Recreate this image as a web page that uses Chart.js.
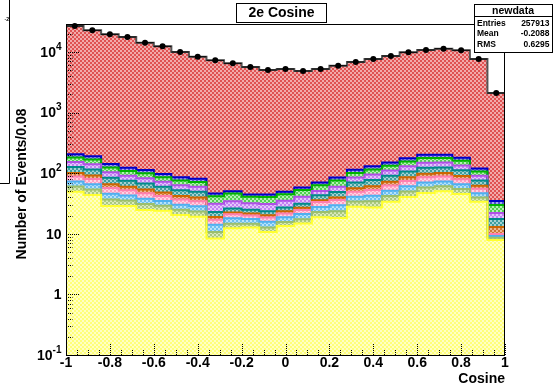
<!DOCTYPE html>
<html>
<head>
<meta charset="utf-8">
<script src="https://cdn.jsdelivr.net/npm/chart.js@4.4.1/dist/chart.umd.min.js"></script>
<style>
  html, body { margin: 0; padding: 0; background: #fff; }
  canvas { display: block; }
</style>
</head>
<body>
<canvas id="cosChart" width="553" height="387"></canvas>
<script>
// cos(theta) between the two electrons, 25 bins of width 0.08 on [-1, 1]
const binCenters = [-0.96, -0.88, -0.80, -0.72, -0.64, -0.56, -0.48, -0.40, -0.32, -0.24, -0.16, -0.08,
                    0.00, 0.08, 0.16, 0.24, 0.32, 0.40, 0.48, 0.56, 0.64, 0.72, 0.80, 0.88, 0.96];
const binWidth = 0.08;

// observed events per bin
const dataCounts = [26850, 22800, 19600, 17700, 14230, 12420, 10000, 8360, 7290, 6510, 5650, 5050,
                    5240, 4860, 5240, 5940, 6840, 7660, 8590, 9890, 10790, 11330, 10670, 7660, 2105];

// MC stack components, bottom to top
const stackYellow = [49.5, 43.7, 28.8, 28.8, 24.7, 24.0, 20.4, 19.1, 8.4, 12.3, 12.7, 10.7,
                     13.4, 14.8, 18.7, 18.2, 28.0, 27.2, 33.9, 40.5, 47.1, 50.5, 45.4, 33.9, 7.9];
const stackOlive  = [10.8, 10.2, 7.9, 6.6, 6.2, 5.1, 4.6, 4.3, 2.3, 2.4, 1.9, 2.0,
                     2.2, 2.6, 4.1, 5.4, 6.0, 7.2, 8.1, 9.5, 10.9, 10.6, 9.5, 6.0, 0.7];
const stackSky    = [12.7, 11.7, 9.0, 7.5, 7.0, 5.8, 5.2, 5.0, 3.4, 3.4, 2.9, 3.1,
                     3.2, 3.9, 4.8, 6.0, 6.9, 8.2, 9.3, 10.9, 12.4, 12.1, 10.8, 6.9, 0.6];
const stackPink   = [15.3, 14.6, 11.3, 9.4, 8.8, 7.3, 6.5, 6.2, 3.0, 3.0, 2.6, 2.7,
                     2.9, 3.4, 5.9, 6.7, 8.6, 10.3, 11.6, 13.6, 15.5, 15.1, 13.5, 8.6, 0.7];
const stackOrange = [12.5, 11.7, 9.0, 7.5, 7.0, 5.8, 5.2, 5.0, 1.9, 1.4, 1.6, 1.7,
                     1.8, 2.2, 2.2, 3.4, 6.9, 8.2, 9.3, 10.9, 12.4, 12.1, 10.8, 6.9, 3.0];
const stackTeal   = [25.8, 23.4, 18.1, 15.0, 14.1, 11.7, 10.4, 9.9, 3.8, 3.6, 3.2, 3.4,
                     3.6, 4.3, 7.6, 9.4, 13.8, 16.5, 18.6, 21.8, 24.8, 24.2, 21.6, 13.8, 4.6];
const stackViolet = [26.4, 24.8, 19.2, 16.0, 15.0, 12.4, 11.1, 10.5, 8.4, 8.5, 7.0, 7.5,
                     7.9, 9.5, 7.7, 10.7, 14.6, 17.5, 19.7, 23.1, 26.4, 25.7, 23.0, 14.6, 4.5];
const stackGreen  = [28.6, 27.7, 21.5, 17.9, 16.7, 13.9, 12.4, 11.8, 10.6, 11.5, 9.0, 9.5,
                     10.1, 12.0, 12.5, 16.1, 16.3, 19.6, 22.0, 25.8, 29.5, 28.7, 25.7, 16.3, 7.9];
const stackBlue   = [23.4, 21.9, 17.0, 14.1, 13.2, 11.0, 9.8, 9.3, 4.6, 4.1, 3.8, 4.1,
                     4.3, 5.2, 6.9, 9.4, 12.9, 15.5, 17.4, 20.4, 23.3, 22.7, 20.3, 12.9, 4.9];
const stackRed    = [26650, 22610, 19460, 17580, 14120, 12320, 9915, 8280, 7245, 6460, 5605, 5005,
                     5190, 4800, 5170, 5855, 6725, 7530, 8440, 9710, 10590, 11130, 10490, 7540, 2070];

// axis ticks and labels
const xTickValues = [-1, -0.8, -0.6, -0.4, -0.2, 0, 0.2, 0.4, 0.6, 0.8, 1];
const xTickLabels = ['-1', '-0.8', '-0.6', '-0.4', '-0.2', '0', '0.2', '0.4', '0.6', '0.8', '1'];
const yDecades = [0.1, 1, 10, 100, 1000, 10000];
const yTickLabels = [['10', '-1'], ['1', ''], ['10', ''], ['10', '2'], ['10', '3'], ['10', '4']];
const statsRows = [['Entries', '257913'], ['Mean', '-0.2088'], ['RMS', '0.6295']];

const FONT = '"Liberation Sans", Arial, Helvetica, sans-serif';

// ROOT-like dotted fill: 2px checker of the fill colour and a paler tint
function checker(dark, light) {
  const c = document.createElement('canvas');
  c.width = 4; c.height = 4;
  const g = c.getContext('2d');
  g.fillStyle = light; g.fillRect(0, 0, 4, 4);
  g.fillStyle = dark;
  g.fillRect(0, 0, 2, 2); g.fillRect(2, 2, 2, 2);
  return g.createPattern(c, 'repeat');
}

const components = [
  { data: stackYellow, dark: '#ffff7a', light: '#ffffc4', line: '#ffff30' },
  { data: stackOlive,  dark: '#a9c97e', light: '#dbe9bd', line: '#9cbf6c' },
  { data: stackSky,    dark: '#6cbff0', light: '#b8e2fb', line: '#4fb0f0' },
  { data: stackPink,   dark: '#ff9ec0', light: '#ffd3e3', line: '#ff7fb0' },
  { data: stackOrange, dark: '#d27434', light: '#ebbb93', line: '#cc6600' },
  { data: stackTeal,   dark: '#3e9e9e', light: '#a3d2d2', line: '#008b8b' },
  { data: stackViolet, dark: '#c27ff2', light: '#e4c6fc', line: '#b050e6' },
  { data: stackGreen,  dark: '#4fd04f', light: '#b4f2b4', line: '#00b400' },
  { data: stackBlue,   dark: '#4f4fd0', light: '#a6a6f2', line: '#0000c8' },
  { data: stackRed,    dark: '#df5252', light: '#f2aaaa', line: '#555555' }
];

const datasets = components.map(c => ({
  type: 'bar',
  data: c.data,
  backgroundColor: checker(c.dark, c.light),
  borderWidth: 0,
  stack: 'mc',
  order: 1,
  outlineColor: c.line
}));

datasets.push({
  type: 'line',
  data: dataCounts,
  showLine: false,
  pointRadius: 3,
  pointBackgroundColor: '#000',
  pointBorderWidth: 0,
  stack: 'obs',
  order: 0,
  clip: false
});
const DATA_INDEX = datasets.length - 1;

function drawPow(ctx, base, exp, xRight, y) {
  ctx.font = 'bold 10px ' + FONT;
  const wExp = exp ? ctx.measureText(exp).width : 0;
  ctx.font = 'bold 14px ' + FONT;
  ctx.textAlign = 'right';
  ctx.textBaseline = 'middle';
  ctx.fillText(base, xRight - wExp, y + 1);
  if (exp) {
    ctx.font = 'bold 10px ' + FONT;
    ctx.textAlign = 'left';
    ctx.fillText(exp, xRight - wExp, y - 5);
  }
}

const rootStyle = {
  id: 'rootStyle',
  beforeDatasetDraw(chart, args) {
    if (args.index !== DATA_INDEX) return;
    const ctx = chart.ctx;
    const area = chart.chartArea;
    ctx.save();
    ctx.beginPath();
    ctx.rect(area.left, area.top - 2, area.right - area.left, area.bottom - area.top + 2);
    ctx.clip();
    // histogram outlines, top component first so lower lines sit on top
    for (let k = components.length - 1; k >= 0; k--) {
      const bars = chart.getDatasetMeta(k).data;
      ctx.strokeStyle = chart.data.datasets[k].outlineColor;
      ctx.lineWidth = 2;
      ctx.beginPath();
      bars.forEach((b, i) => {
        const p = b.getProps(['x', 'y', 'width'], true);
        const l = p.x - p.width / 2, r = p.x + p.width / 2;
        if (i === 0) ctx.moveTo(l, p.y); else ctx.lineTo(l, p.y);
        ctx.lineTo(r, p.y);
      });
      ctx.stroke();
    }
    ctx.restore();
    // horizontal bin-width bars of the data points
    const xv = chart.scales.xv;
    const pts = chart.getDatasetMeta(DATA_INDEX).data;
    ctx.save();
    ctx.strokeStyle = '#000';
    ctx.lineWidth = 1;
    pts.forEach((p, i) => {
      const l = xv.getPixelForValue(binCenters[i] - binWidth / 2);
      const r = xv.getPixelForValue(binCenters[i] + binWidth / 2);
      ctx.beginPath();
      ctx.moveTo(l, p.y);
      ctx.lineTo(r, p.y);
      ctx.stroke();
    });
    ctx.restore();
  },
  afterDraw(chart) {
    const ctx = chart.ctx;
    const area = chart.chartArea;
    const xv = chart.scales.xv;
    const y = chart.scales.y;
    ctx.save();

    // frame
    ctx.strokeStyle = '#000';
    ctx.lineWidth = 1;
    ctx.strokeRect(area.left + 0.5, area.top + 0.5, area.right - area.left - 1, area.bottom - area.top);

    // ticks, drawn inward
    ctx.setLineDash([1, 1]);
    ctx.beginPath();
    for (let v = -1; v <= 1.0001; v += 0.05) {
      const major = Math.abs(v * 5 - Math.round(v * 5)) < 1e-6;
      const px = Math.round(xv.getPixelForValue(v)) + 0.5;
      ctx.moveTo(px, area.bottom);
      ctx.lineTo(px, area.bottom - (major ? 11 : 5.5));
    }
    yDecades.forEach(d => {
      for (let m = 1; m <= 9; m++) {
        const v = m * d;
        if (v > y.max) break;
        const py = Math.round(y.getPixelForValue(v)) + 0.5;
        ctx.moveTo(area.left, py);
        ctx.lineTo(area.left + (m === 1 ? 13 : 6.5), py);
      }
    });
    ctx.stroke();
    ctx.setLineDash([]);

    // tick labels
    ctx.fillStyle = '#000';
    ctx.font = 'bold 14px ' + FONT;
    ctx.textAlign = 'center';
    ctx.textBaseline = 'middle';
    xTickValues.forEach((v, i) => {
      ctx.fillText(xTickLabels[i], xv.getPixelForValue(v), 363);
    });
    yDecades.forEach((d, i) => {
      drawPow(ctx, yTickLabels[i][0], yTickLabels[i][1], 61.5, y.getPixelForValue(d));
    });

    // axis titles
    ctx.font = 'bold 14px ' + FONT;
    ctx.textAlign = 'right';
    ctx.textBaseline = 'middle';
    ctx.fillText('Cosine', area.right, 379);
    ctx.save();
    ctx.translate(22, 184);
    ctx.rotate(-Math.PI / 2);
    ctx.textAlign = 'center';
    ctx.fillText('Number of Events/0.08', 0, 0);
    ctx.restore();

    // title box
    ctx.fillStyle = '#fff';
    ctx.fillRect(236.5, 3.5, 90, 19);
    ctx.strokeRect(236.5, 3.5, 90, 19);
    ctx.fillStyle = '#000';
    ctx.textAlign = 'center';
    ctx.fillText('2e Cosine', 281.5, 13.5);

    // statistics box
    ctx.fillStyle = '#fff';
    ctx.fillRect(474.5, 4.5, 78, 48);
    ctx.strokeRect(474.5, 4.5, 78, 48);
    ctx.beginPath();
    ctx.moveTo(474.5, 16.5);
    ctx.lineTo(552.5, 16.5);
    ctx.stroke();
    ctx.fillStyle = '#000';
    ctx.font = 'bold 10.5px ' + FONT;
    ctx.textAlign = 'center';
    ctx.fillText('newdata', 513, 10.8);
    ctx.font = 'bold 8.5px ' + FONT;
    statsRows.forEach((row, i) => {
      const ry = 23.5 + i * 10.5;
      ctx.textAlign = 'left';
      ctx.fillText(row[0], 477, ry);
      ctx.textAlign = 'right';
      ctx.fillText(row[1], 549.5, ry);
    });

    // edge of the neighbouring pad
    ctx.beginPath();
    ctx.moveTo(9.5, 0);
    ctx.lineTo(9.5, 183.5);
    ctx.lineTo(0, 183.5);
    ctx.stroke();
    ctx.font = 'bold 5px ' + FONT;
    ctx.textAlign = 'right';
    ctx.fillText('-2', 9, 20);

    ctx.restore();
  }
};

new Chart(document.getElementById('cosChart'), {
  type: 'bar',
  data: { labels: binCenters, datasets: datasets },
  options: {
    responsive: false,
    animation: false,
    events: [],
    layout: { padding: { left: 66, right: 48, top: 24, bottom: 32 } },
    datasets: { bar: { categoryPercentage: 1, barPercentage: 1 } },
    plugins: { legend: { display: false }, tooltip: { enabled: false }, title: { display: false } },
    scales: {
      x: { type: 'category', stacked: true, offset: true, display: false },
      xv: { type: 'linear', axis: 'x', position: 'bottom', min: -1, max: 1, offset: false, display: false },
      y: { type: 'logarithmic', stacked: true, min: 0.1, max: 29000, display: false }
    }
  },
  plugins: [rootStyle]
});
</script>
</body>
</html>
